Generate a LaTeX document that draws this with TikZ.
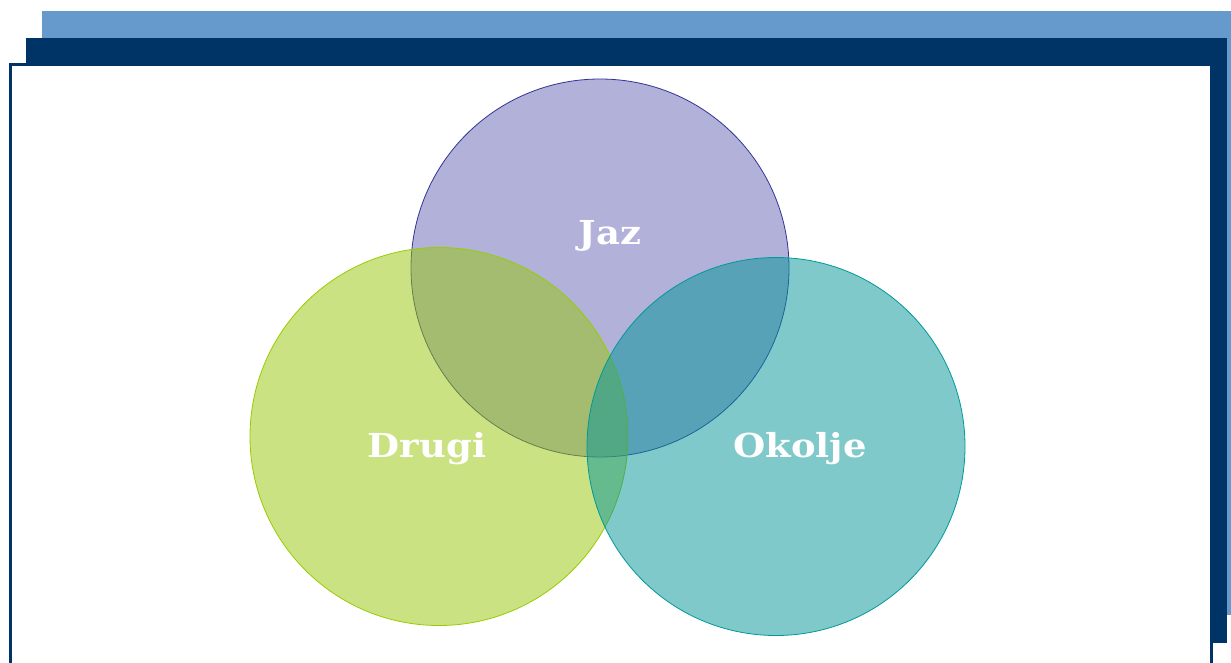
\documentclass[tikz,border=0pt]{standalone}
\usepackage{fontspec}
\newfontfamily\labfont[FakeStretch=1.12]{DejaVu Serif}
\begin{document}
\begin{tikzpicture}[x=1pt,y=-1pt,
  circ/.style={circle,minimum size=378pt,inner sep=0pt,line width=0.8pt,fill opacity=0.5},
  lab/.style={text=white,anchor=base,inner sep=0pt,font=\labfont\bfseries\fontsize{33}{38}\selectfont}]
\definecolor{lightblue}{HTML}{6699CC}
\definecolor{navy}{HTML}{003366}
\definecolor{jazfill}{HTML}{6565B5}
\definecolor{jazline}{HTML}{333399}
\definecolor{drufill}{HTML}{99C707}
\definecolor{druline}{HTML}{99CC00}
\definecolor{okofill}{HTML}{019599}
\definecolor{okoline}{HTML}{009999}
\useasboundingbox (0,0) rectangle (1231,662);
\fill[lightblue] (42,11) rectangle (1231,615);
\fill[navy] (26,38) rectangle (1227,643);
\draw[navy,line width=3pt,fill=white] (10.5,64.5) rectangle (1211.5,700);
\node[circ,draw=jazline,fill=jazfill] (jaz) at (600,268) {};
\node[circ,draw=druline,fill=drufill] (drugi) at (439,436.5) {};
\node[circ,draw=okoline,fill=okofill] (okolje) at (776,446.5) {};
\node[lab] (tjaz) at (610,244) {Jaz};
\node[lab] (tdrugi) at (427,457) {Drugi};
\node[lab] (tokolje) at (800,457) {Okolje};
\end{tikzpicture}
\end{document}
